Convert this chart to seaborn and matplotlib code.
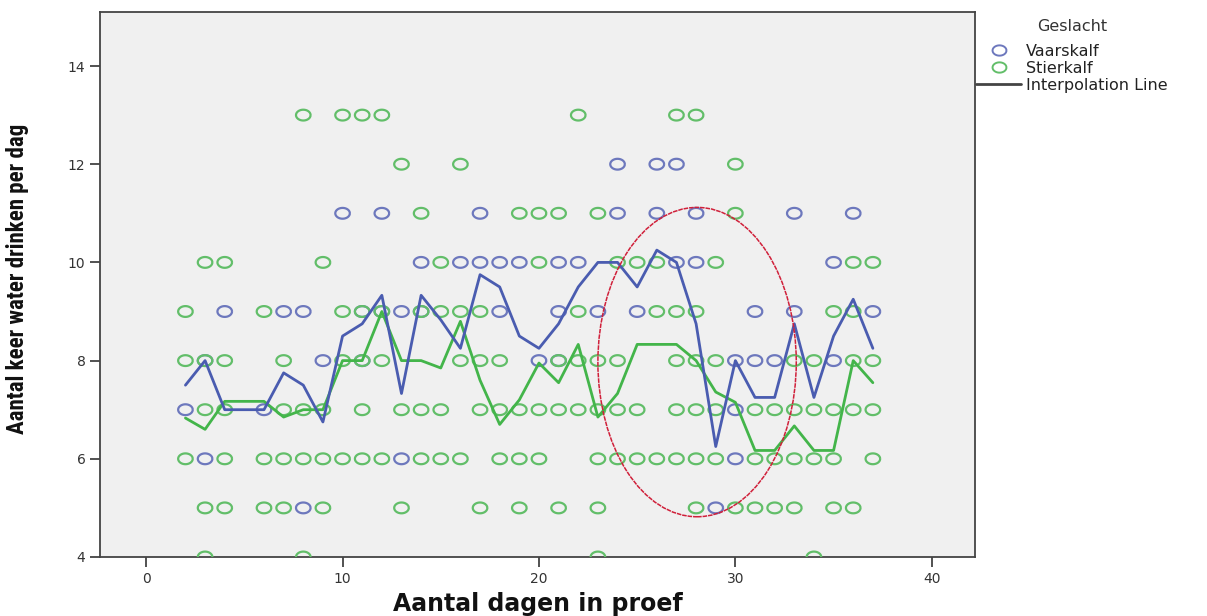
import numpy as np
import pandas as pd
import seaborn as sns
import matplotlib
matplotlib.use("Agg")
import matplotlib.pyplot as plt
from matplotlib.patches import Ellipse
from matplotlib.lines import Line2D
from matplotlib.path import Path
from matplotlib import font_manager

# ---------------- data ----------------
groepen = ["Vaarskalf", "Stierkalf"]

# individual observations (dag, aantal keer) per group
vaars_dag = [8, 29,
             3, 13, 30,
             2, 6, 30,
             3, 9, 11, 20, 21, 30, 31, 32, 35,
             4, 7, 8, 11, 12, 13, 14, 18, 21, 23, 25, 31, 33, 37,
             14, 16, 17, 18, 19, 21, 22, 27, 28, 35,
             10, 12, 17, 24, 26, 28, 33, 36,
             24, 26, 27]
vaars_keer = [5, 5,
              6, 6, 6,
              7, 7, 7,
              8, 8, 8, 8, 8, 8, 8, 8, 8,
              9, 9, 9, 9, 9, 9, 9, 9, 9, 9, 9, 9, 9, 9,
              10, 10, 10, 10, 10, 10, 10, 10, 10, 10,
              11, 11, 11, 11, 11, 11, 11, 11,
              12, 12, 12]

stier_dag = [3, 8, 23, 34,
             3, 4, 6, 7, 9, 13, 17, 19, 21, 23, 28, 30, 31, 32, 33, 35, 36,
             2, 4, 6, 7, 8, 9, 10, 11, 12, 14, 15, 16, 18, 19, 20, 23, 24, 25, 26, 27, 28, 29, 31, 32, 33, 34, 35, 37,
             3, 4, 7, 8, 9, 11, 13, 14, 15, 17, 18, 19, 20, 21, 22, 23, 24, 25, 27, 28, 29, 31, 32, 33, 34, 35, 36, 37,
             2, 3, 4, 7, 10, 11, 12, 16, 17, 18, 21, 22, 23, 24, 27, 28, 29, 33, 34, 36, 37,
             2, 6, 10, 11, 12, 14, 15, 16, 17, 22, 26, 27, 28, 35, 36,
             3, 4, 9, 15, 20, 24, 25, 26, 29, 36, 37,
             14, 19, 20, 21, 23, 30,
             13, 16, 30,
             8, 10, 11, 12, 22, 27, 28]
stier_keer = ([4] * 4 + [5] * 17 + [6] * 28 + [7] * 28 + [8] * 21 +
              [9] * 15 + [10] * 11 + [11] * 6 + [12] * 3 + [13] * 7)

# interpolation line (mean per day)
dagen = [2, 3, 4, 5, 6, 7, 8, 9, 10, 11, 12, 13, 14, 15, 16, 17, 18, 19,
         20, 21, 22, 23, 24, 25, 26, 27, 28, 29, 30, 31, 32, 33, 34, 35, 36, 37]
vaars_gem = [7.5, 8.0, 7.0, 7.0, 7.0, 7.75, 7.5, 6.75, 8.5, 8.75, 9.33, 7.33,
             9.33, 8.83, 8.25, 9.75, 9.5, 8.5, 8.25, 8.75, 9.5, 10.0, 10.0, 9.5,
             10.25, 10.0, 8.75, 6.25, 8.0, 7.25, 7.25, 8.75, 7.25, 8.5, 9.25, 8.25]
stier_gem = [6.83, 6.6, 7.17, 7.17, 7.17, 6.85, 7.0, 7.0, 8.0, 8.0, 9.0, 8.0,
             8.0, 7.85, 8.8, 7.6, 6.7, 7.2, 7.95, 7.55, 8.33, 6.85, 7.33, 8.33,
             8.33, 8.33, 8.0, 7.36, 7.15, 6.17, 6.17, 6.67, 6.17, 6.17, 8.0, 7.55]

x_ticks = [0, 10, 20, 30, 40]
y_ticks = [4, 6, 8, 10, 12, 14]

# ---------------- style ----------------
blauw_lijn = "#4a5cb0"
blauw_punt = "#6d78bd"
groen_lijn = "#43b54a"
groen_punt = "#62be69"

sns.set_style("white")
plt.rcParams["font.family"] = ["DejaVu Sans"]

# pick a narrow family for the y label if one is installed
namen = {f.name for f in font_manager.fontManager.ttflist}
smal = None
for kand in ["Liberation Sans Narrow", "DejaVu Sans Condensed", "Roboto Condensed",
             "Open Sans Condensed"]:
    if kand in namen:
        smal = kand
        break

fig = plt.figure(figsize=(12.07, 6.16), dpi=100)
ax = fig.add_axes([100 / 1207, 59 / 616, 875 / 1207, 545 / 616])
ax.set_facecolor("#f0f0f0")

# oval marker (the original is horizontally stretched)
t = np.linspace(0, 2 * np.pi, 60)
ovaal = Path(np.column_stack([1.35 * np.cos(t), np.sin(t)]))

df_v = pd.DataFrame({"dag": vaars_dag, "keer": vaars_keer})
df_s = pd.DataFrame({"dag": stier_dag, "keer": stier_keer})

sns.scatterplot(data=df_v, x="dag", y="keer", ax=ax, marker=ovaal, s=110,
                facecolor="none", edgecolor=blauw_punt, linewidth=1.6, zorder=3)
sns.scatterplot(data=df_s, x="dag", y="keer", ax=ax, marker=ovaal, s=110,
                facecolor="none", edgecolor=groen_punt, linewidth=1.6, zorder=3)

df_lv = pd.DataFrame({"dag": dagen, "gem": vaars_gem})
df_ls = pd.DataFrame({"dag": dagen, "gem": stier_gem})
sns.lineplot(data=df_ls, x="dag", y="gem", ax=ax, color=groen_lijn, lw=2.0, zorder=4)
sns.lineplot(data=df_lv, x="dag", y="gem", ax=ax, color=blauw_lijn, lw=2.0, zorder=5)

# red annotation ellipse
ax.add_patch(Ellipse((28.05, 7.97), 10.1, 6.3, fill=False, edgecolor="#d0203a",
                     lw=1.1, ls=(0, (3, 0.6)), zorder=6))

ax.set_xlim(-2.35, 42.2)
ax.set_ylim(4, 15.1)
ax.set_xticks(x_ticks)
ax.set_yticks(y_ticks)
ax.tick_params(axis="both", direction="out", length=7, width=1.2, color="#333333",
               labelsize=10, labelcolor="#333333", left=True, bottom=True)
for s in ax.spines.values():
    s.set_color("#444444")
    s.set_linewidth(1.3)

ax.set_xlabel("Aantal dagen in proef", fontsize=17, fontweight="bold",
              color="#111111")
ax.xaxis.set_label_coords(0.5, -0.064)
if smal:
    ax.set_ylabel("Aantal keer water drinken per dag", fontsize=16.5, fontweight="bold",
                  family=[smal, "DejaVu Sans"], color="#111111")
else:
    ax.set_ylabel("Aantal keer water drinken per dag", fontsize=13.5, fontweight="bold",
                  color="#111111")
ax.yaxis.set_label_coords(-0.081, 0.51)

handles = [
    Line2D([], [], marker=ovaal, ls="none", markerfacecolor="none",
           markeredgecolor=blauw_punt, markersize=10, markeredgewidth=1.4),
    Line2D([], [], marker=ovaal, ls="none", markerfacecolor="none",
           markeredgecolor=groen_punt, markersize=10, markeredgewidth=1.4),
    Line2D([], [], color="#444444", lw=2),
]
leg = fig.legend(handles, groepen + ["Interpolation Line"], title="Geslacht",
                 loc="upper left", bbox_to_anchor=(973 / 1207, 1 - 16 / 616),
                 frameon=False, fontsize=11.5, title_fontsize=11.5,
                 handlelength=2.8, handletextpad=0.3, labelspacing=0.12,
                 borderaxespad=0, borderpad=0.2)
leg.get_title().set_color("#333333")
leg._legend_box.sep = 7
for txt in leg.get_texts():
    txt.set_color("#222222")

fig.savefig("out.png", dpi=100)
